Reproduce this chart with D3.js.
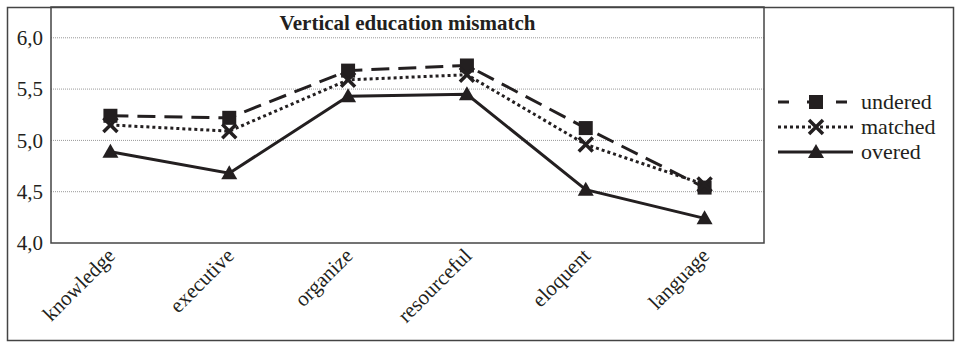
<!DOCTYPE html>
<html>
<head>
<meta charset="utf-8">
<script src="https://cdn.jsdelivr.net/npm/d3@7"></script>
<style>
  body { margin: 0; background: #fff; }
  text { font-family: "Liberation Serif", "Times New Roman", serif; fill: #231f20; }
</style>
</head>
<body>
<div id="chart"></div>
<script>
var categories = ["knowledge", "executive", "organize", "resourceful", "eloquent", "language"];
var undered = [5.24, 5.22, 5.68, 5.73, 5.12, 4.54];
var matched = [5.15, 5.09, 5.59, 5.64, 4.96, 4.57];
var overed  = [4.89, 4.68, 5.43, 5.45, 4.52, 4.24];
var yTicks = [4.0, 4.5, 5.0, 5.5, 6.0];

var W = 955, H = 342;
var margin = {top: 7, right: 191, bottom: 99, left: 51},
    width = W - margin.left - margin.right,
    height = H - margin.top - margin.bottom;

var svg = d3.select("#chart").append("svg")
    .attr("width", W)
    .attr("height", H);

// outer frame
svg.append("rect")
    .attr("x", 7.5).attr("y", 7.5)
    .attr("width", W - 9).attr("height", H - 9)
    .attr("fill", "none").attr("stroke", "#444").attr("stroke-width", 1.5);

var g = svg.append("g")
    .attr("transform", "translate(" + margin.left + "," + margin.top + ")");

var x = d3.scaleBand().domain(categories).range([0, width]).padding(0);
var y = d3.scaleLinear().domain([4, 6.3]).range([height, 0]);

// grid
g.selectAll(".grid").data(yTicks.slice(1))
  .enter().append("line")
    .attr("x1", 0).attr("x2", width)
    .attr("y1", function(d) { return y(d); })
    .attr("y2", function(d) { return y(d); })
    .attr("stroke", "#999").attr("stroke-width", 1)
    .attr("stroke-dasharray", "1,1");

// y axis labels
var yAxis = d3.axisLeft(y).tickValues(yTicks).tickSize(0).tickPadding(8)
    .tickFormat(function(d) { return d3.format(".1f")(d).replace(".", ","); });
var ya = g.append("g").call(yAxis);
ya.select(".domain").remove();
ya.selectAll("text").style("font-size", "21px").style("font-family", "Liberation Serif, serif");

// x axis labels
var xAxis = d3.axisBottom(x).tickSize(0).tickPadding(0);
var xa = g.append("g").attr("transform", "translate(0," + height + ")").call(xAxis);
xa.select(".domain").remove();
xa.selectAll("text")
    .style("font-size", "21px").style("font-family", "Liberation Serif, serif")
    .attr("text-anchor", "end")
    .attr("dy", 0)
    .attr("transform", "translate(6,14) rotate(-45)");

// plot frame
g.append("rect")
    .attr("x", 0).attr("y", 0).attr("width", width).attr("height", height)
    .attr("fill", "none").attr("stroke", "#444").attr("stroke-width", 1.5);

var line = d3.line()
    .x(function(d, i) { return x(categories[i]) + x.bandwidth() / 2; })
    .y(function(d) { return y(d); });

var series = [
  {name: "undered", values: undered, dash: "18,9", marker: "square"},
  {name: "matched", values: matched, dash: "3,3", marker: "cross"},
  {name: "overed",  values: overed,  dash: null, marker: "triangle"}
];

function drawMarker(sel, type, cx, cy) {
  if (type === "square") {
    sel.append("rect").attr("x", cx - 7).attr("y", cy - 7)
      .attr("width", 14).attr("height", 14).attr("fill", "#231f20");
  } else if (type === "cross") {
    sel.append("path")
      .attr("d", "M" + (cx - 7) + "," + (cy - 7) + "L" + (cx + 7) + "," + (cy + 7) +
                 "M" + (cx + 7) + "," + (cy - 7) + "L" + (cx - 7) + "," + (cy + 7))
      .attr("stroke", "#231f20").attr("stroke-width", 3.5).attr("fill", "none");
  } else {
    sel.append("path")
      .attr("d", "M" + cx + "," + (cy - 8) + "L" + (cx + 8) + "," + (cy + 6) + "L" + (cx - 8) + "," + (cy + 6) + "Z")
      .attr("fill", "#231f20");
  }
}

series.forEach(function(s) {
  g.append("path")
    .datum(s.values)
    .attr("d", line)
    .attr("fill", "none")
    .attr("stroke", "#231f20")
    .attr("stroke-width", 3)
    .attr("stroke-dasharray", s.dash);
  var mg = g.append("g");
  s.values.forEach(function(v, i) {
    drawMarker(mg, s.marker, x(categories[i]) + x.bandwidth() / 2, y(v));
  });
});

// title
g.append("text")
  .attr("x", width / 2).attr("y", 23)
  .attr("text-anchor", "middle")
  .style("font-size", "21px").style("font-weight", "bold")
  .text("Vertical education mismatch");

// legend
var legend = svg.append("g").attr("transform", "translate(778,102)");
series.forEach(function(s, i) {
  var ly = i * 25;
  legend.append("line")
    .attr("x1", 0).attr("x2", 75).attr("y1", ly).attr("y2", ly)
    .attr("stroke", "#231f20").attr("stroke-width", 3)
    .attr("stroke-dasharray", s.dash ? (i === 0 ? "11,18,0,0" : "3,3") : null);
  drawMarker(legend, s.marker, 38, ly);
  legend.append("text")
    .attr("x", 83).attr("y", ly + 7)
    .style("font-size", "22px")
    .text(s.name);
});
</script>
</body>
</html>
